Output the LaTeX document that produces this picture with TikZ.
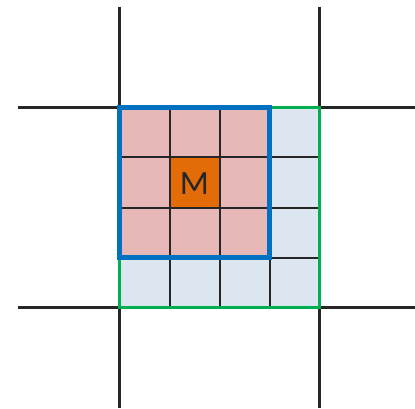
\documentclass[tikz,border=0pt]{standalone}
\usepackage{fontspec}
\newfontfamily\labelfont{Carlito}
\definecolor{pinkcell}{HTML}{E6B8B7}
\definecolor{bluecell}{HTML}{DCE6F1}
\definecolor{orangecell}{HTML}{E36C09}
\definecolor{blueborder}{HTML}{0070C0}
\definecolor{greenborder}{HTML}{00B050}
\definecolor{gridline}{HTML}{262626}
\tikzset{
  outerline/.style={draw=gridline, line width=2.2pt},
  innerline/.style={draw=gridline, line width=2pt},
  bluebox/.style={draw=blueborder, line width=5pt},
  greenbox/.style={draw=greenborder, line width=3pt},
}
\begin{document}
\begin{tikzpicture}[x=1pt,y=-1pt]
\useasboundingbox (0,0) rectangle (415,409);
% outer lines
\draw[outerline] (119.5,7) -- (119.5,408);
\draw[outerline] (319.5,7) -- (319.5,408);
\draw[outerline] (18,107.5) -- (415,107.5);
\draw[outerline] (18,307.5) -- (415,307.5);
% fills
\fill[bluecell] (119.5,107.5) rectangle (319.5,307.5);
\fill[pinkcell] (119.5,107.5) rectangle (269.5,257.5);
\fill[orangecell] (169.5,157.5) rectangle (219.5,207.5);
% inner grid
\foreach \v in {169.5,219.5,269.5} {
  \draw[innerline] (\v,107.5) -- (\v,307.5);
}
\foreach \h in {157.5,207.5,257.5} {
  \draw[innerline] (119.5,\h) -- (319.5,\h);
}
% borders
\draw[greenbox] (119.5,107.5) rectangle (319.5,307.5);
\draw[bluebox] (119.5,107.5) rectangle (269.5,257.5);
\node[font=\labelfont\fontsize{34}{34}\selectfont, text=gridline, inner sep=0pt] (m) at (194.5,183.5) {M};
\end{tikzpicture}
\end{document}
